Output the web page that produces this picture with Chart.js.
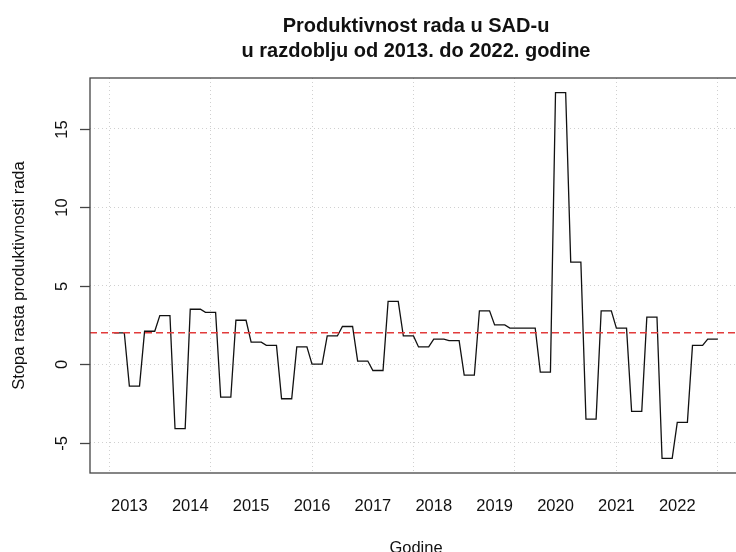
<!DOCTYPE html>
<html>
<head>
<meta charset="utf-8">
<title>Produktivnost rada u SAD-u</title>
<script src="https://cdn.jsdelivr.net/npm/chart.js@4.4.1/dist/chart.umd.min.js"></script>
<style>
  html, body { margin: 0; padding: 0; background: #fff; }
  /* the R plot region runs past the right edge of the picture, so the canvas is wider than the view */
  #view { width: 736px; height: 552px; overflow: hidden; position: relative; }
  #wrap { width: 760px; height: 552px; position: relative; }
</style>
</head>
<body>
<div id="view"><div id="wrap"><canvas id="chart"></canvas></div></div>
<script>
/* ---------- Data: monthly growth rate (quarterly values held for 3 months), 2013-2022 ---------- */
var rate2013 = [2.0, 2.0, 2.0, -1.4, -1.4, -1.4, 2.1, 2.1, 2.1, 3.1, 3.1, 3.1];
var rate2014 = [-4.1, -4.1, -4.1, 3.5, 3.5, 3.5, 3.3, 3.3, 3.3, -2.1, -2.1, -2.1];
var rate2015 = [2.8, 2.8, 2.8, 1.4, 1.4, 1.4, 1.2, 1.2, 1.2, -2.2, -2.2, -2.2];
var rate2016 = [1.1, 1.1, 1.1, 0.0, 0.0, 0.0, 1.8, 1.8, 1.8, 2.4, 2.4, 2.4];
var rate2017 = [0.2, 0.2, 0.2, -0.4, -0.4, -0.4, 4.0, 4.0, 4.0, 1.8, 1.8, 1.8];
var rate2018 = [1.1, 1.1, 1.1, 1.6, 1.6, 1.6, 1.5, 1.5, 1.5, -0.7, -0.7, -0.7];
var rate2019 = [3.4, 3.4, 3.4, 2.5, 2.5, 2.5, 2.3, 2.3, 2.3, 2.3, 2.3, 2.3];
var rate2020 = [-0.5, -0.5, -0.5, 17.3, 17.3, 17.3, 6.5, 6.5, 6.5, -3.5, -3.5, -3.5];
var rate2021 = [3.4, 3.4, 3.4, 2.3, 2.3, 2.3, -3.0, -3.0, -3.0, 3.0, 3.0, 3.0];
var rate2022 = [-6.0, -6.0, -6.0, -3.7, -3.7, -3.7, 1.2, 1.2, 1.2, 1.6, 1.6, 1.6];

var meanRate = 2.0;                       // red dashed reference line

var yearLabels = ['2013', '2014', '2015', '2016', '2017', '2018', '2019', '2020', '2021', '2022'];
var yearLabelPos = [4, 16, 28, 40, 52, 64, 76, 88, 100, 112];   // month index of each year label
var yTicks = [-5, 0, 5, 10, 15];
var xGrid = [0, 20, 40, 60, 80, 100, 120];

var titleLines = ['Produktivnost rada u SAD-u', 'u razdoblju od 2013. do 2022. godine'];
var xTitle = 'Godine';
var yTitle = 'Stopa rasta produktivnosti rada';

/* R style axis limits (data range plus 4%) */
var xMin = -3.76, xMax = 124.76;
var yMin = -6.93, yMax = 18.23;

var monthly = [].concat(rate2013, rate2014, rate2015, rate2016, rate2017,
                        rate2018, rate2019, rate2020, rate2021, rate2022);
var points = monthly.map(function (v, i) { return { x: i + 1, y: v }; });

var FONT = "'Liberation Sans', Arial, Helvetica, sans-serif";
var INK = '#111';

/* ---------- R base-graphics look: frame, rotated y labels, titles ---------- */
Chart.register({
  id: 'rBase',
  afterDatasetsDraw: function (chart) {
    var ctx = chart.ctx, a = chart.chartArea;
    var py = chart.scales.y.getPixelForValue(meanRate);
    ctx.save();
    ctx.beginPath();
    ctx.rect(a.left, a.top, a.right - a.left, a.bottom - a.top);
    ctx.clip();
    ctx.strokeStyle = '#e23b3b';
    ctx.lineWidth = 1.4;
    ctx.setLineDash([7, 4]);
    ctx.beginPath();
    ctx.moveTo(a.left, py);
    ctx.lineTo(a.right, py);
    ctx.stroke();
    ctx.restore();
  },
  afterDraw: function (chart) {
    var ctx = chart.ctx, a = chart.chartArea;
    var xs = chart.scales.x, ys = chart.scales.y;
    var cx = (a.left + a.right) / 2;
    ctx.save();

    // box
    ctx.strokeStyle = '#444';
    ctx.lineWidth = 1.3;
    ctx.strokeRect(a.left, a.top, a.right - a.left, a.bottom - a.top);

    // y ticks + labels (parallel to the axis)
    ctx.fillStyle = INK;
    ctx.font = '16.5px ' + FONT;
    ctx.textAlign = 'center';
    ctx.textBaseline = 'middle';
    yTicks.forEach(function (v) {
      var py = Math.round(ys.getPixelForValue(v)) + 0.5;
      ctx.beginPath();
      ctx.moveTo(a.left - 10, py);
      ctx.lineTo(a.left, py);
      ctx.stroke();
      ctx.save();
      ctx.translate(a.left - 28, py);
      ctx.rotate(-Math.PI / 2);
      ctx.fillText(String(v), 0, 0);
      ctx.restore();
    });

    // x year labels (no tick marks)
    ctx.textBaseline = 'alphabetic';
    yearLabels.forEach(function (lab, i) {
      ctx.fillText(lab, xs.getPixelForValue(yearLabelPos[i]), 511);
    });

    // axis titles
    ctx.fillText(xTitle, cx, 553);
    ctx.save();
    ctx.translate(19.5, (a.top + a.bottom) / 2);
    ctx.rotate(-Math.PI / 2);
    ctx.textBaseline = 'middle';
    ctx.fillText(yTitle, 0, 0);
    ctx.restore();

    // main title
    ctx.font = 'bold 20px ' + FONT;
    ctx.fillText(titleLines[0], cx, 32);
    ctx.fillText(titleLines[1], cx, 57);
    ctx.restore();
  }
});

new Chart(document.getElementById('chart'), {
  type: 'line',
  data: {
    datasets: [{
      data: points,
      borderColor: INK,
      borderWidth: 1.3,
      pointRadius: 0,
      tension: 0,
      fill: false
    }]
  },
  options: {
    responsive: true,
    maintainAspectRatio: false,
    animation: false,
    layout: { padding: { left: 90, right: 18, top: 78, bottom: 79 } },
    plugins: { legend: { display: false }, tooltip: { enabled: false }, title: { display: false } },
    scales: {
      x: {
        type: 'linear',
        min: xMin,
        max: xMax,
        ticks: { display: false },
        grid: { color: '#d0d0d0', lineWidth: 1, drawTicks: false },
        border: { display: false, dash: [1, 3] },
        afterBuildTicks: function (s) { s.ticks = xGrid.map(function (v) { return { value: v }; }); },
        afterFit: function (s) { s.height = 0; }
      },
      y: {
        min: yMin,
        max: yMax,
        ticks: { display: false },
        grid: { color: '#d0d0d0', lineWidth: 1, drawTicks: false },
        border: { display: false, dash: [1, 3] },
        afterBuildTicks: function (s) { s.ticks = yTicks.map(function (v) { return { value: v }; }); },
        afterFit: function (s) { s.width = 0; }
      }
    }
  }
});
</script>
</body>
</html>
